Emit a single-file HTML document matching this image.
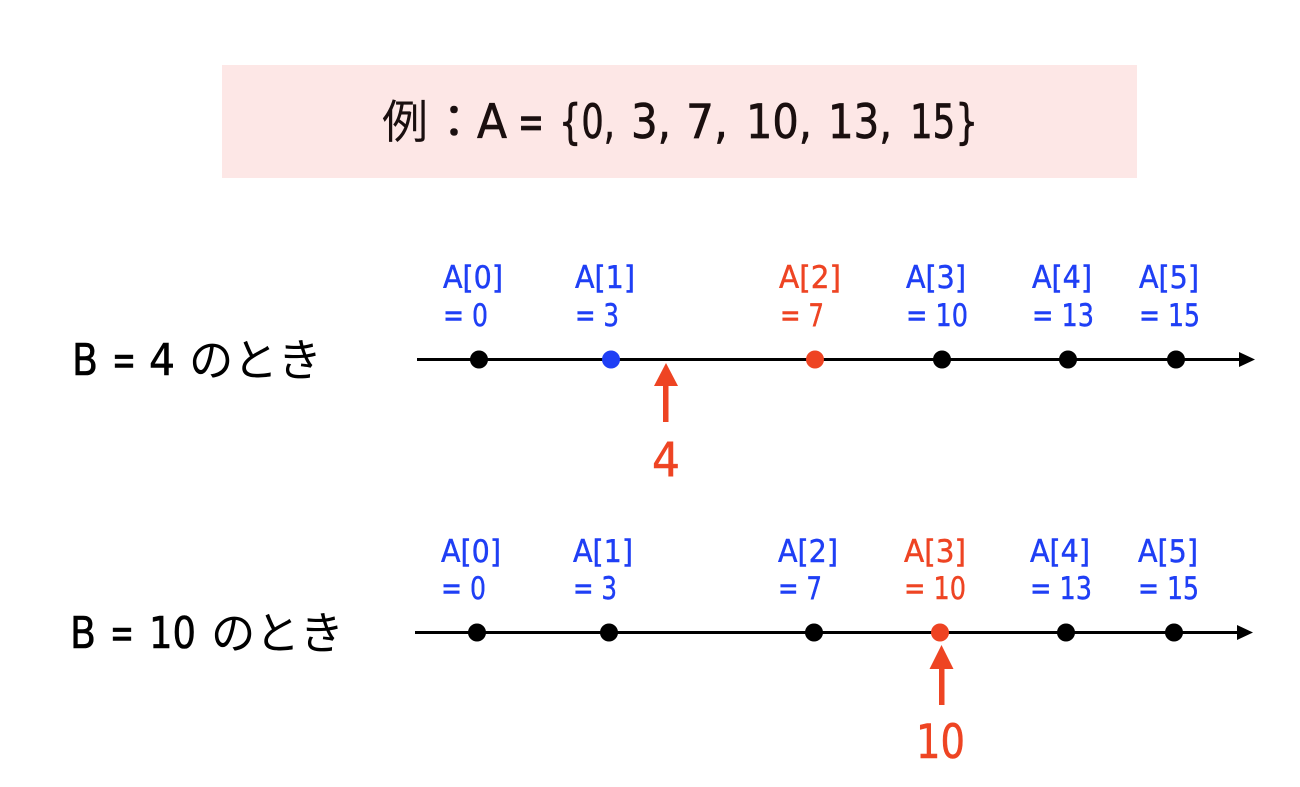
<!DOCTYPE html>
<html><head><meta charset="utf-8">
<style>
html,body{margin:0;padding:0;background:#fff;width:1300px;height:787px;overflow:hidden}
svg{display:block}
text{font-family:"DejaVu Sans","Noto Sans CJK JP",sans-serif}
.j{font-family:"Noto Sans CJK JP",sans-serif}
.b{fill:#1f3ff5;stroke:#1f3ff5;stroke-width:.45}
.r{fill:#ee4423;stroke:#ee4423;stroke-width:.45}
.l{font-size:31px}
.t{font-size:47px;fill:#1a0f0f;stroke:#1a0f0f;stroke-width:.7}
.n{font-size:44px;fill:#000;stroke:#000;stroke-width:.6}
.h{font-size:45px;fill:#000}
</style></head><body>
<svg width="1300" height="787" viewBox="0 0 1300 787" xmlns="http://www.w3.org/2000/svg">
<rect x="222" y="65" width="915" height="113" fill="#fde7e6"/>
<text class="j" x="382" y="138" font-size="46" fill="#1a0f0f">例</text>
<text class="j" x="431" y="138" font-size="46" fill="#1a0f0f" stroke="#1a0f0f" stroke-width=".6">：</text>
<g class="t">
<text x="477" y="138" textLength="30" lengthAdjust="spacingAndGlyphs">A</text>
<text x="518" y="138" textLength="26" lengthAdjust="spacingAndGlyphs">=</text>
<text x="559" y="138" textLength="56" lengthAdjust="spacingAndGlyphs">{0,</text>
<text x="631" y="138" textLength="40" lengthAdjust="spacingAndGlyphs">3,</text>
<text x="686" y="138" textLength="42" lengthAdjust="spacingAndGlyphs">7,</text>
<text x="746" y="138" textLength="66" lengthAdjust="spacingAndGlyphs">10,</text>
<text x="828" y="138" textLength="64" lengthAdjust="spacingAndGlyphs">13,</text>
<text x="910" y="138" textLength="68" lengthAdjust="spacingAndGlyphs">15}</text>
</g>

<!-- Row 1 -->
<g class="n">
<text x="72" y="375" textLength="26" lengthAdjust="spacingAndGlyphs">B</text>
<text x="112" y="375" textLength="24" lengthAdjust="spacingAndGlyphs">=</text>
<text x="149" y="375" textLength="26" lengthAdjust="spacingAndGlyphs">4</text>
</g>
<text class="j h" x="189" y="376" textLength="133" lengthAdjust="spacingAndGlyphs">のとき</text>
<line x1="417" y1="359.500" x2="1240" y2="359.500" stroke="#000" stroke-width="3"/>
<polygon points="1239,352 1255,359.500 1239,367" fill="#000"/>
<circle cx="479" cy="359.500" r="9" fill="#000"/>
<circle cx="611" cy="359.500" r="9" fill="#1f3ff5"/>
<circle cx="815" cy="359.500" r="9" fill="#ee4423"/>
<circle cx="942" cy="359.500" r="9" fill="#000"/>
<circle cx="1068" cy="359.500" r="9" fill="#000"/>
<circle cx="1176" cy="359.500" r="9" fill="#000"/>
<g class="l">
<text class="b" x="443" y="288" textLength="60" lengthAdjust="spacingAndGlyphs">A[0]</text>
<text class="b" x="443" y="326" textLength="45" lengthAdjust="spacingAndGlyphs">= 0</text>
<text class="b" x="575" y="288" textLength="60" lengthAdjust="spacingAndGlyphs">A[1]</text>
<text class="b" x="575" y="326" textLength="44" lengthAdjust="spacingAndGlyphs">= 3</text>
<text class="r" x="779" y="288" textLength="62" lengthAdjust="spacingAndGlyphs">A[2]</text>
<text class="r" x="780" y="326" textLength="44" lengthAdjust="spacingAndGlyphs">= 7</text>
<text class="b" x="906" y="288" textLength="60" lengthAdjust="spacingAndGlyphs">A[3]</text>
<text class="b" x="906" y="326" textLength="62" lengthAdjust="spacingAndGlyphs">= 10</text>
<text class="b" x="1032" y="288" textLength="60" lengthAdjust="spacingAndGlyphs">A[4]</text>
<text class="b" x="1032" y="326" textLength="62" lengthAdjust="spacingAndGlyphs">= 13</text>
<text class="b" x="1139" y="288" textLength="60" lengthAdjust="spacingAndGlyphs">A[5]</text>
<text class="b" x="1139" y="326" textLength="61" lengthAdjust="spacingAndGlyphs">= 15</text>
</g>
<rect x="663" y="382" width="5.500" height="40" fill="#ee4423"/>
<polygon points="666,363 678,386 654,386" fill="#ee4423"/>
<text class="r" x="652" y="476" font-size="47" textLength="28" lengthAdjust="spacingAndGlyphs" style="stroke-width:.6">4</text>

<!-- Row 2 -->
<g class="n">
<text x="70" y="648" textLength="26" lengthAdjust="spacingAndGlyphs">B</text>
<text x="110" y="648" textLength="24" lengthAdjust="spacingAndGlyphs">=</text>
<text x="149" y="648" textLength="47" lengthAdjust="spacingAndGlyphs">10</text>
</g>
<text class="j h" x="211" y="649" textLength="133" lengthAdjust="spacingAndGlyphs">のとき</text>
<line x1="415" y1="632.500" x2="1238" y2="632.500" stroke="#000" stroke-width="3"/>
<polygon points="1237,625 1253,632.500 1237,640" fill="#000"/>
<circle cx="477" cy="632.500" r="9" fill="#000"/>
<circle cx="609" cy="632.500" r="9" fill="#000"/>
<circle cx="814" cy="632.500" r="9" fill="#000"/>
<circle cx="940" cy="632.500" r="9" fill="#ee4423"/>
<circle cx="1066" cy="632.500" r="9" fill="#000"/>
<circle cx="1174" cy="632.500" r="9" fill="#000"/>
<g class="l">
<text class="b" x="441" y="562" textLength="60" lengthAdjust="spacingAndGlyphs">A[0]</text>
<text class="b" x="441" y="599" textLength="45" lengthAdjust="spacingAndGlyphs">= 0</text>
<text class="b" x="573" y="562" textLength="60" lengthAdjust="spacingAndGlyphs">A[1]</text>
<text class="b" x="573" y="599" textLength="44" lengthAdjust="spacingAndGlyphs">= 3</text>
<text class="b" x="778" y="562" textLength="60" lengthAdjust="spacingAndGlyphs">A[2]</text>
<text class="b" x="778" y="599" textLength="44" lengthAdjust="spacingAndGlyphs">= 7</text>
<text class="r" x="904" y="562" textLength="62" lengthAdjust="spacingAndGlyphs">A[3]</text>
<text class="r" x="904" y="599" textLength="62" lengthAdjust="spacingAndGlyphs">= 10</text>
<text class="b" x="1030" y="562" textLength="60" lengthAdjust="spacingAndGlyphs">A[4]</text>
<text class="b" x="1030" y="599" textLength="62" lengthAdjust="spacingAndGlyphs">= 13</text>
<text class="b" x="1138" y="562" textLength="60" lengthAdjust="spacingAndGlyphs">A[5]</text>
<text class="b" x="1138" y="599" textLength="61" lengthAdjust="spacingAndGlyphs">= 15</text>
</g>
<rect x="939" y="665" width="5.500" height="40" fill="#ee4423"/>
<polygon points="941.500,645 953.500,669 929.500,669" fill="#ee4423"/>
<text class="r" x="916" y="758" font-size="47" textLength="49" lengthAdjust="spacingAndGlyphs" style="stroke-width:.6">10</text>
</svg>
</body></html>
